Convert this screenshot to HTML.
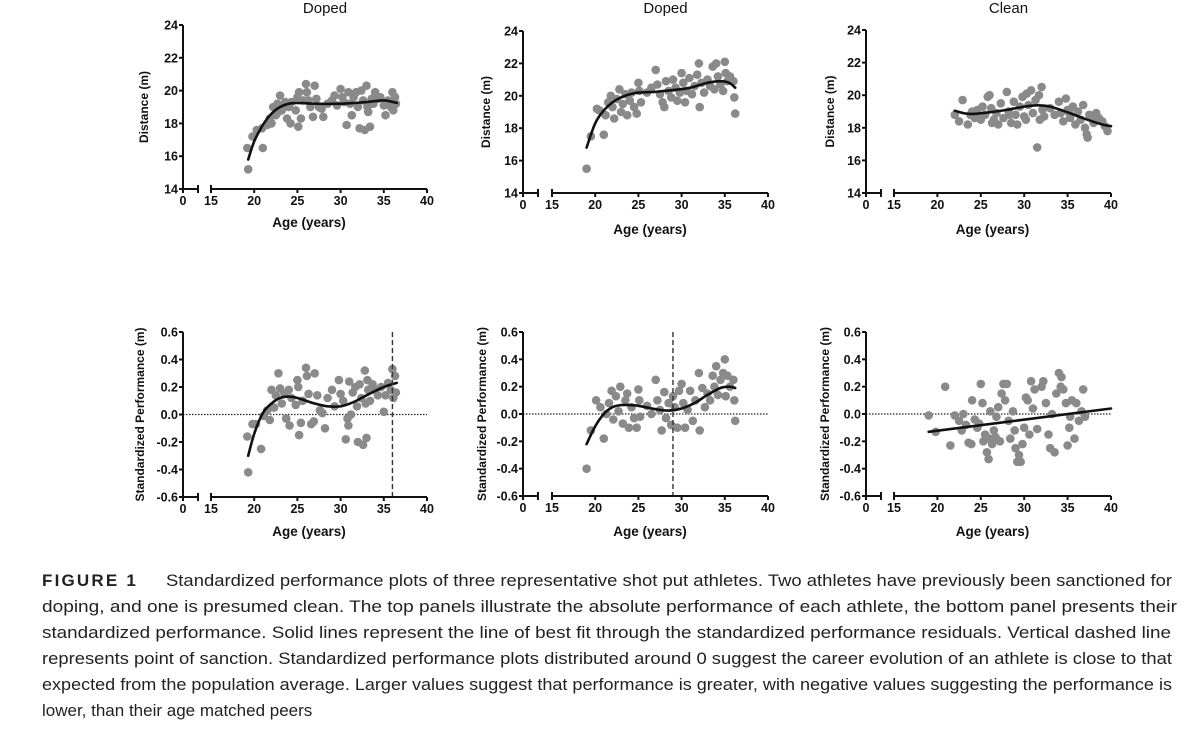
<!DOCTYPE html>
<html><head><meta charset="utf-8">
<style>
html,body{margin:0;padding:0;background:#fff;width:1200px;height:731px;overflow:hidden}
svg{display:block;font-family:"Liberation Sans",Arial,sans-serif}
</style></head>
<body>
<svg id="fig" width="1200" height="731" viewBox="0 0 1200 731">
  <g id="panels"></g>
  <g id="caption" font-size="17" fill="#231f20"></g>
</svg>
<script>
// ---------- DATA ----------
const aTopPts = [[19.2,16.5],[19.3,15.2],[19.8,17.2],[20.3,17.6],[20.9,17.7],[21.0,16.5],[21.5,17.9],[21.8,18.3],[22.0,18.0],[22.2,19.0],[22.5,18.5],[22.7,19.2],[22.8,18.7],[23.0,19.7],[23.2,18.8],[23.4,19.1],[23.6,19.3],[23.8,18.3],[24.0,19.0],[24.2,18.0],[24.3,19.3],[24.8,18.8],[25.0,19.6],[25.1,17.8],[25.2,19.9],[25.4,18.3],[25.7,19.4],[26.0,20.4],[26.1,19.9],[26.3,19.4],[26.5,19.0],[26.8,18.4],[27.0,20.3],[27.2,19.5],[27.5,19.0],[27.8,18.9],[28.0,18.4],[28.5,19.2],[29.0,19.4],[29.3,19.7],[29.6,19.1],[30.0,20.1],[30.2,19.6],[30.4,19.3],[30.7,17.9],[30.9,19.9],[31.1,19.2],[31.3,18.5],[31.5,19.6],[31.8,19.9],[32.0,19.0],[32.2,17.7],[32.4,20.0],[32.6,19.4],[32.8,17.6],[33.0,20.3],[33.1,19.0],[33.2,18.7],[33.4,17.8],[33.6,19.5],[33.8,19.2],[34.0,19.9],[34.3,19.5],[34.6,19.6],[35.0,19.1],[35.2,18.5],[35.5,19.4],[35.8,19.0],[36.0,19.9],[36.1,18.8],[36.3,19.6],[36.4,19.2]];
const aTopFit = [[19.3,15.8],[20,16.9],[21,17.9],[22,18.6],[23,19.0],[24,19.2],[25,19.25],[27,19.2],[30,19.2],[33,19.3],[35,19.4],[36.5,19.25]];
const bTopPts = [[19.0,15.5],[19.5,17.5],[20.2,19.2],[20.5,19.1],[21.0,17.6],[21.2,18.8],[21.5,19.6],[21.8,20.0],[22.0,19.3],[22.2,18.6],[22.5,19.8],[22.8,20.4],[23.0,19.0],[23.2,19.5],[23.5,20.1],[23.7,18.8],[24.0,19.7],[24.2,20.2],[24.5,19.3],[24.8,18.9],[25.0,20.8],[25.1,20.3],[25.3,19.6],[26.0,20.2],[26.5,20.5],[27.0,21.6],[27.2,20.7],[27.5,20.1],[27.8,19.6],[28.0,19.3],[28.2,20.9],[28.5,20.3],[28.8,19.9],[29.0,21.0],[29.3,20.5],[29.5,19.7],[29.8,20.2],[30.0,21.4],[30.2,20.8],[30.4,19.6],[30.6,20.3],[30.9,21.1],[31.2,20.1],[31.5,20.6],[31.8,21.3],[32.0,22.0],[32.1,19.3],[32.3,20.8],[32.6,20.2],[33.0,21.0],[33.3,20.6],[33.6,21.8],[33.8,20.4],[34.0,22.0],[34.2,21.2],[34.5,20.7],[34.8,20.3],[35.0,22.1],[35.1,21.4],[35.3,20.9],[35.6,21.2],[36.0,20.9],[36.1,19.9],[36.2,18.9]];
const bTopFit = [[19,16.8],[20,18.3],[21,19.1],[22,19.6],[23,19.9],[24,20.1],[25,20.2],[27,20.25],[29,20.35],[31,20.5],[33,20.8],[34.5,20.9],[35.5,20.8],[36.2,20.5]];
const cTopPts = [[22.0,18.8],[22.5,18.4],[22.9,19.7],[23.5,18.2],[23.8,18.8],[24.0,19.0],[24.3,18.6],[24.5,18.7],[24.6,19.1],[25.0,18.5],[25.2,19.3],[25.5,18.8],[25.8,19.9],[26.0,20.0],[26.2,19.2],[26.3,18.3],[26.5,18.5],[26.8,18.9],[27.0,18.2],[27.3,19.5],[27.6,18.6],[28.0,20.2],[28.2,19.0],[28.3,18.8],[28.5,18.3],[28.8,19.6],[29.0,18.8],[29.2,18.2],[29.5,19.3],[29.8,19.9],[30.0,18.7],[30.2,18.5],[30.3,20.1],[30.5,19.4],[30.8,20.3],[31.0,18.9],[31.3,19.7],[31.5,16.8],[31.7,20.0],[31.8,18.5],[32.0,20.5],[32.1,19.1],[32.3,18.7],[33.0,19.2],[33.5,18.8],[34.0,19.6],[34.2,18.9],[34.5,18.4],[34.8,19.8],[35.0,19.1],[35.2,18.9],[35.3,18.6],[35.6,19.3],[35.9,18.2],[36.2,19.0],[36.5,18.5],[36.8,19.4],[37.0,18.0],[37.2,17.6],[37.3,17.4],[37.5,18.8],[37.8,18.7],[38.0,18.3],[38.3,18.9],[38.6,18.6],[39.0,18.4],[39.3,18.1],[39.6,17.8]];
const cTopFit = [[22,19.05],[23,18.9],[24,18.85],[26,18.95],[28,19.1],[30,19.3],[31.5,19.38],[33,19.3],[35,18.95],[37,18.55],[39,18.2],[40,18.1]];
const aBotPts = [[19.2,-0.16],[19.3,-0.42],[19.8,-0.07],[20.2,-0.07],[20.8,-0.25],[21.1,-0.01],[21.5,0.03],[21.8,-0.04],[22.0,0.18],[22.3,0.05],[22.5,0.14],[22.8,0.30],[23.0,0.19],[23.2,0.08],[23.5,0.15],[23.7,-0.03],[24.0,0.18],[24.1,-0.08],[24.3,0.12],[24.8,0.07],[25.0,0.25],[25.1,0.2],[25.2,-0.15],[25.4,-0.06],[25.6,0.1],[26.0,0.34],[26.1,0.28],[26.3,0.15],[26.6,-0.07],[26.9,-0.05],[27.0,0.3],[27.3,0.14],[27.6,0.03],[27.9,0.01],[28.2,-0.1],[28.5,0.12],[29.0,0.18],[29.3,0.06],[29.8,0.25],[30.0,0.15],[30.3,0.1],[30.6,-0.18],[30.8,-0.03],[30.9,-0.08],[31.0,0.24],[31.2,0.0],[31.4,0.16],[31.7,0.2],[31.9,0.06],[32.0,-0.2],[32.2,0.22],[32.4,0.12],[32.6,-0.22],[32.8,0.32],[32.9,0.08],[33.0,-0.17],[33.1,0.25],[33.2,0.18],[33.4,0.1],[33.7,0.22],[34.0,0.18],[34.3,0.14],[34.7,0.2],[35.0,0.02],[35.2,0.14],[35.5,0.23],[35.8,0.18],[36.0,0.33],[36.1,0.12],[36.3,0.28],[36.4,0.16]];
const aBotFit = [[19.3,-0.3],[20,-0.14],[21,0.01],[22,0.08],[23,0.12],[24,0.13],[25,0.12],[27,0.08],[28.5,0.06],[30,0.06],[31.5,0.09],[33,0.14],[35,0.2],[36.5,0.23]];
const bBotPts = [[19.0,-0.4],[19.5,-0.12],[20.1,0.1],[20.6,0.05],[21.0,-0.18],[21.3,0.0],[21.6,0.08],[21.9,0.17],[22.1,-0.04],[22.4,0.13],[22.7,0.02],[22.9,0.2],[23.2,-0.07],[23.5,0.1],[23.7,0.15],[23.9,-0.1],[24.2,0.05],[24.5,-0.03],[24.8,-0.1],[25.0,0.18],[25.1,0.1],[25.2,-0.02],[26.0,0.06],[26.5,0.0],[27.0,0.25],[27.2,0.1],[27.5,0.03],[27.7,-0.12],[28.0,0.16],[28.2,-0.03],[28.5,0.08],[28.8,-0.08],[29.0,0.13],[29.2,0.05],[29.5,-0.1],[29.7,0.17],[30.0,0.22],[30.2,0.08],[30.4,-0.1],[30.7,0.03],[31.0,0.17],[31.3,-0.05],[31.6,0.1],[32.0,0.3],[32.1,-0.12],[32.4,0.19],[32.7,0.05],[33.0,0.15],[33.3,0.1],[33.6,0.28],[33.8,0.2],[34.0,0.35],[34.2,0.14],[34.5,0.25],[34.8,0.3],[35.0,0.4],[35.1,0.13],[35.3,0.28],[35.6,0.2],[36.0,0.25],[36.1,0.1],[36.2,-0.05]];
const bBotFit = [[19,-0.22],[20,-0.09],[21,0.0],[22,0.05],[23,0.065],[24,0.065],[25,0.06],[27,0.035],[28.5,0.025],[30,0.04],[31.5,0.08],[33,0.14],[34.5,0.19],[35.5,0.2],[36.2,0.19]];
const cBotPts = [[19,-0.01],[19.8,-0.13],[20.9,0.2],[21.5,-0.23],[22.0,-0.01],[22.5,-0.05],[22.8,-0.12],[23.0,0.0],[23.3,-0.08],[23.6,-0.21],[23.9,-0.22],[24.0,0.1],[24.3,-0.04],[24.6,-0.1],[24.8,-0.07],[25.0,0.22],[25.2,0.08],[25.3,-0.2],[25.5,-0.15],[25.7,-0.28],[25.9,-0.33],[26.0,-0.18],[26.1,0.02],[26.3,-0.22],[26.5,-0.12],[26.7,-0.17],[26.8,-0.02],[27.0,0.05],[27.2,-0.2],[27.4,0.15],[27.6,0.22],[27.8,0.1],[28.0,0.22],[28.2,-0.05],[28.4,-0.18],[28.7,0.02],[28.9,-0.12],[29.0,-0.25],[29.2,-0.35],[29.4,-0.3],[29.6,-0.35],[29.8,-0.22],[30.0,-0.1],[30.2,0.12],[30.4,0.1],[30.6,-0.15],[30.8,0.24],[31.0,0.04],[31.2,0.18],[31.5,-0.11],[32.0,0.2],[32.2,0.24],[32.5,0.08],[32.8,-0.15],[33.0,-0.25],[33.2,0.0],[33.5,-0.28],[33.7,0.15],[34.0,0.3],[34.2,0.2],[34.3,0.27],[34.5,0.18],[34.8,0.08],[35.0,-0.23],[35.2,-0.1],[35.3,-0.02],[35.5,0.1],[35.8,-0.18],[36.0,0.08],[36.3,-0.05],[36.6,0.02],[36.8,0.18],[37.0,-0.02]];
const cBotFit = [[19,-0.13],[40,0.04]];
const topYTicks = [14,16,18,20,22,24];
const botYTicks = [-0.6,-0.4,-0.2,0.0,0.2,0.4,0.6];
const xTicks = [15,20,25,30,35,40];
const titles = ["Doped","Doped","Clean"];
const sanctionAges = [36, 29, null];

// ---------- LAYOUT ----------
const NS = "http://www.w3.org/2000/svg";
const root = document.getElementById('panels');
function el(tag, attrs, parent){ const e=document.createElementNS(NS,tag); for(const k in attrs) e.setAttribute(k,attrs[k]); (parent||root).appendChild(e); return e; }

const panels = [
 {key:'a-top', ax:183, x15:211, x40:427, yTop:25, yBot:189, ymin:14, ymax:24, pts:aTopPts, fit:aTopFit, ticks:topYTicks, dec:0, ytitle:'Distance (m)', ytx:148, title:titles[0], sanction:null, zero:false, xtitleY:222},
 {key:'b-top', ax:523, x15:552, x40:768, yTop:31, yBot:193, ymin:14, ymax:24, pts:bTopPts, fit:bTopFit, ticks:topYTicks, dec:0, ytitle:'Distance (m)', ytx:490, title:titles[1], sanction:null, zero:false, xtitleY:229},
 {key:'c-top', ax:866, x15:894, x40:1111, yTop:30, yBot:193, ymin:14, ymax:24, pts:cTopPts, fit:cTopFit, ticks:topYTicks, dec:0, ytitle:'Distance (m)', ytx:834, title:titles[2], sanction:null, zero:false, xtitleY:229},
 {key:'a-bottom', ax:183, x15:211, x40:427, yTop:332, yBot:497, ymin:-0.6, ymax:0.6, pts:aBotPts, fit:aBotFit, ticks:botYTicks, dec:1, ytitle:'Standardized Performance (m)', ytx:144, title:null, sanction:sanctionAges[0], zero:true, xtitleY:531},
 {key:'b-bottom', ax:523, x15:552, x40:768, yTop:332, yBot:496, ymin:-0.6, ymax:0.6, pts:bBotPts, fit:bBotFit, ticks:botYTicks, dec:1, ytitle:'Standardized Performance (m)', ytx:486, title:null, sanction:sanctionAges[1], zero:true, xtitleY:531},
 {key:'c-bottom', ax:866, x15:894, x40:1111, yTop:332, yBot:496, ymin:-0.6, ymax:0.6, pts:cBotPts, fit:cBotFit, ticks:botYTicks, dec:1, ytitle:'Standardized Performance (m)', ytx:829, title:null, sanction:sanctionAges[2], zero:true, xtitleY:531}
];

panels.forEach(p=>{
  const g = el('g',{});
  
  
  const sx = a => p.x15 + (a-15)*(p.x40-p.x15)/25;
  const sy = v => p.yBot - (v-p.ymin)*(p.yBot-p.yTop)/(p.ymax-p.ymin);
  if(p.title){
    const t = el('text',{x:(p.ax+p.x40)/2+20, y:13, 'text-anchor':'middle','font-size':15, fill:'#111'}, g);
    t.textContent = p.title;
    
    
  }
  if(p.zero){
    const z = el('line',{x1:p.ax, x2:p.x40, y1:sy(0), y2:sy(0), stroke:'#222','stroke-width':1.2,'stroke-dasharray':'1.5,1.5'}, g);
    
    
  }
  const pg = el('g',{fill:'#8a8a8a'}, g);
  
  
  p.pts.forEach(d=>{
    const c = el('circle',{cx:sx(d[0]).toFixed(1), cy:sy(d[1]).toFixed(1), r:4.3}, pg);
    
    
  });
  const P = p.fit.map(d=>[sx(d[0]), sy(d[1])]);
  let dstr = 'M'+P[0][0].toFixed(1)+','+P[0][1].toFixed(1);
  for(let i=0;i<P.length-1;i++){
    const p0=P[Math.max(0,i-1)], p1=P[i], p2=P[i+1], p3=P[Math.min(P.length-1,i+2)];
    const c1=[p1[0]+(p2[0]-p0[0])/6, p1[1]+(p2[1]-p0[1])/6];
    const c2=[p2[0]-(p3[0]-p1[0])/6, p2[1]-(p3[1]-p1[1])/6];
    dstr += ` C${c1[0].toFixed(1)},${c1[1].toFixed(1)} ${c2[0].toFixed(1)},${c2[1].toFixed(1)} ${p2[0].toFixed(1)},${p2[1].toFixed(1)}`;
  }
  const fl = el('path',{d:dstr, fill:'none', stroke:'#111','stroke-width':2.6,'stroke-linecap':'round'}, g);
  
  
  if(p.sanction!==null){
    const s = el('line',{x1:sx(p.sanction), x2:sx(p.sanction), y1:p.yTop, y2:p.yBot, stroke:'#333','stroke-width':1.4,'stroke-dasharray':'5,3'}, g);
    
    
  }
  const ax = el('g',{stroke:'#111','stroke-width':2, fill:'none'}, g);
  
  
  el('line',{x1:p.ax, x2:p.ax, y1:p.yTop, y2:p.yBot+1}, ax);
  el('line',{x1:p.ax-1, x2:p.ax+15, y1:p.yBot, y2:p.yBot}, ax);
  el('line',{x1:p.ax+15, x2:p.ax+15, y1:p.yBot-4, y2:p.yBot+4}, ax);
  el('line',{x1:p.x15, x2:p.x40, y1:p.yBot, y2:p.yBot}, ax);
  el('line',{x1:p.x15, x2:p.x15, y1:p.yBot-4, y2:p.yBot+4}, ax);
  el('line',{x1:p.ax, x2:p.ax, y1:p.yBot, y2:p.yBot+4}, ax);
  xTicks.forEach(t=>{ if(t>15) el('line',{x1:sx(t), x2:sx(t), y1:p.yBot, y2:p.yBot+4}, ax); });
  p.ticks.forEach(t=>{ el('line',{x1:p.ax-4, x2:p.ax, y1:sy(t), y2:sy(t)}, ax); });
  const lg = el('g',{'font-size':12.5,'font-weight':'bold', fill:'#111'}, g);
  
  
  p.ticks.forEach(t=>{
    const tx = el('text',{x:p.ax-5, y:sy(t)+4.5, 'text-anchor':'end'}, lg);
    tx.textContent = t.toFixed(p.dec);
  });
  const z0 = el('text',{x:p.ax, y:p.yBot+16, 'text-anchor':'middle'}, lg); z0.textContent='0';
  xTicks.forEach(t=>{
    const tx = el('text',{x:sx(t), y:p.yBot+16, 'text-anchor':'middle'}, lg);
    tx.textContent = t;
  });
  const xt = el('text',{x:(p.x15+p.x40)/2-10, y:p.xtitleY+5, 'text-anchor':'middle','font-size':13.5,'font-weight':'bold', fill:'#111'}, g);
  xt.textContent = 'Age (years)';
  
  
  const yc = (p.yTop+p.yBot)/2;
  const yt = el('text',{x:p.ytx, y:yc, 'text-anchor':'middle','font-size':12,'font-weight':'bold', fill:'#111', transform:`rotate(-90 ${p.ytx} ${yc})`}, g);
  yt.textContent = p.ytitle;
  
  
});

const cap = document.getElementById('caption');
const lines = [
 ["Standardized performance plots of three representative shot put athletes. Two athletes have previously been sanctioned for", true],
 ["doping, and one is presumed clean. The top panels illustrate the absolute performance of each athlete, the bottom panel presents their", true],
 ["standardized performance. Solid lines represent the line of best fit through the standardized performance residuals. Vertical dashed line", true],
 ["represents point of sanction. Standardized performance plots distributed around 0 suggest the career evolution of an athlete is close to that", true],
 ["expected from the population average. Larger values suggest that performance is greater, with negative values suggesting the performance is", true],
 ["lower, than their age matched peers", false]
];
const fig = el('text',{x:42, y:586, 'font-weight':'bold','letter-spacing':2.2, 'font-size':17}, cap);
fig.textContent = 'FIGURE 1';


lines.forEach((l,i)=>{
  const x0 = i===0 ? 166 : 42;
  const y = 586 + i*26;
  const attrs = {x:x0, y:y};
  if(l[1]){ attrs.textLength = (i===0?1172:[1177,1171,1172,1172,1170][i-1]) - x0; attrs.lengthAdjust='spacingAndGlyphs'; }
  const t = el('text', attrs, cap);
  t.textContent = l[0];
  
  
});
</script>
</body></html>
